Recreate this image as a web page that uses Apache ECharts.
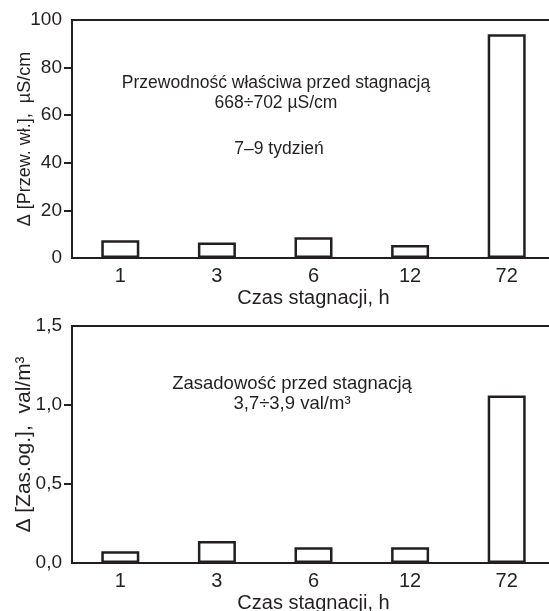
<!DOCTYPE html>
<html>
<head>
<meta charset="utf-8">
<script src="https://cdn.jsdelivr.net/npm/echarts@6/dist/echarts.min.js"></script>
<style>
  html, body { margin: 0; padding: 0; background: #fff; }
  #main { width: 549px; height: 611px; }
</style>
</head>
<body>
<div id="main"></div>
<script>
const categories = ['1', '3', '6', '12', '72']
const conductivity = [7.5, 6.5, 8.7, 5.5, 94]
const alkalinity = [0.075, 0.14, 0.1, 0.1, 1.06]
const topTicks = [0, 20, 40, 60, 80, 100]
const bottomTicks = [0, 0.5, 1, 1.5]

const ink = '#231f20'
const font = "'Liberation Sans', Arial, sans-serif"

const chartDom = document.getElementById('main')
const myChart = echarts.init(chartDom)

const xAxisBase = (gridIndex) => ({
  type: 'category',
  gridIndex: gridIndex,
  data: categories,
  boundaryGap: true,
  name: 'Czas stagnacji, h',
  nameLocation: 'middle',
  nameGap: 30,
  nameMoveOverlap: false,
  nameTextStyle: { fontFamily: font, fontSize: 20, color: ink },
  axisLine: { lineStyle: { color: ink, width: 2 } },
  axisTick: { length: 8, lineStyle: { color: ink, width: 2 }, interval: (i) => i > 0 },
  axisLabel: { fontFamily: font, fontSize: 20, color: ink, margin: 8 },
  splitLine: { show: false },
})

const yAxisBase = (gridIndex, ticks, name, nameSize, nameGap, fmt) => ({
  type: 'value',
  gridIndex: gridIndex,
  min: ticks[0],
  max: ticks[ticks.length - 1],
  interval: ticks[1] - ticks[0],
  name: name,
  nameLocation: 'middle',
  nameRotate: 90,
  nameGap: nameGap,
  nameMoveOverlap: false,
  nameTextStyle: { fontFamily: font, fontSize: nameSize, color: ink },
  axisLine: { show: true, lineStyle: { color: ink, width: 2 } },
  axisTick: {
    show: true,
    length: 8,
    customValues: ticks.slice(1, -1),
    lineStyle: { color: ink, width: 2 },
  },
  axisLabel: {
    fontFamily: font,
    fontSize: 19,
    color: ink,
    margin: 10,
    customValues: ticks,
    formatter: fmt,
  },
  splitLine: { show: false },
})

const barStyle = {
  color: '#fff',
  borderColor: ink,
  borderWidth: 2.5,
}

const option = {
  animation: false,
  backgroundColor: '#fff',
  grid: [
    { left: 72, right: -6, top: 20, height: 238, outerBoundsMode: 'none', show: true, borderColor: ink, borderWidth: 2, backgroundColor: 'transparent' },
    { left: 72, right: -6, top: 326, height: 237, outerBoundsMode: 'none', show: true, borderColor: ink, borderWidth: 2, backgroundColor: 'transparent' },
  ],
  xAxis: [xAxisBase(0), xAxisBase(1)],
  yAxis: [
    yAxisBase(0, topTicks, 'Δ [Przew. wł.],  µS/cm', 18, 38, (v) => String(v)),
    yAxisBase(1, bottomTicks, 'Δ [Zas.og.],  val/m³', 21, 37, (v) => v.toFixed(1).replace('.', ',')),
  ],
  series: [
    {
      type: 'bar',
      xAxisIndex: 0,
      yAxisIndex: 0,
      data: conductivity,
      barWidth: 38,
      itemStyle: barStyle,
    },
    {
      type: 'bar',
      xAxisIndex: 1,
      yAxisIndex: 1,
      data: alkalinity,
      barWidth: 38,
      itemStyle: barStyle,
    },
  ],
  graphic: [
    {
      type: 'text',
      x: 276,
      y: 93,
      style: {
        text: 'Przewodność właściwa przed stagnacją\n668÷702 µS/cm',
        font: '17.5px ' + font,
        fill: ink,
        align: 'center',
        verticalAlign: 'middle',
        lineHeight: 20.5,
      },
    },
    {
      type: 'text',
      x: 279,
      y: 149,
      style: {
        text: '7–9 tydzień',
        font: '17.5px ' + font,
        fill: ink,
        align: 'center',
        verticalAlign: 'middle',
      },
    },
    {
      type: 'text',
      x: 292,
      y: 394,
      style: {
        text: 'Zasadowość przed stagnacją\n3,7÷3,9 val/m³',
        font: '18.5px ' + font,
        fill: ink,
        align: 'center',
        verticalAlign: 'middle',
        lineHeight: 19.5,
      },
    },
  ],
}

option && myChart.setOption(option)
</script>
</body>
</html>
